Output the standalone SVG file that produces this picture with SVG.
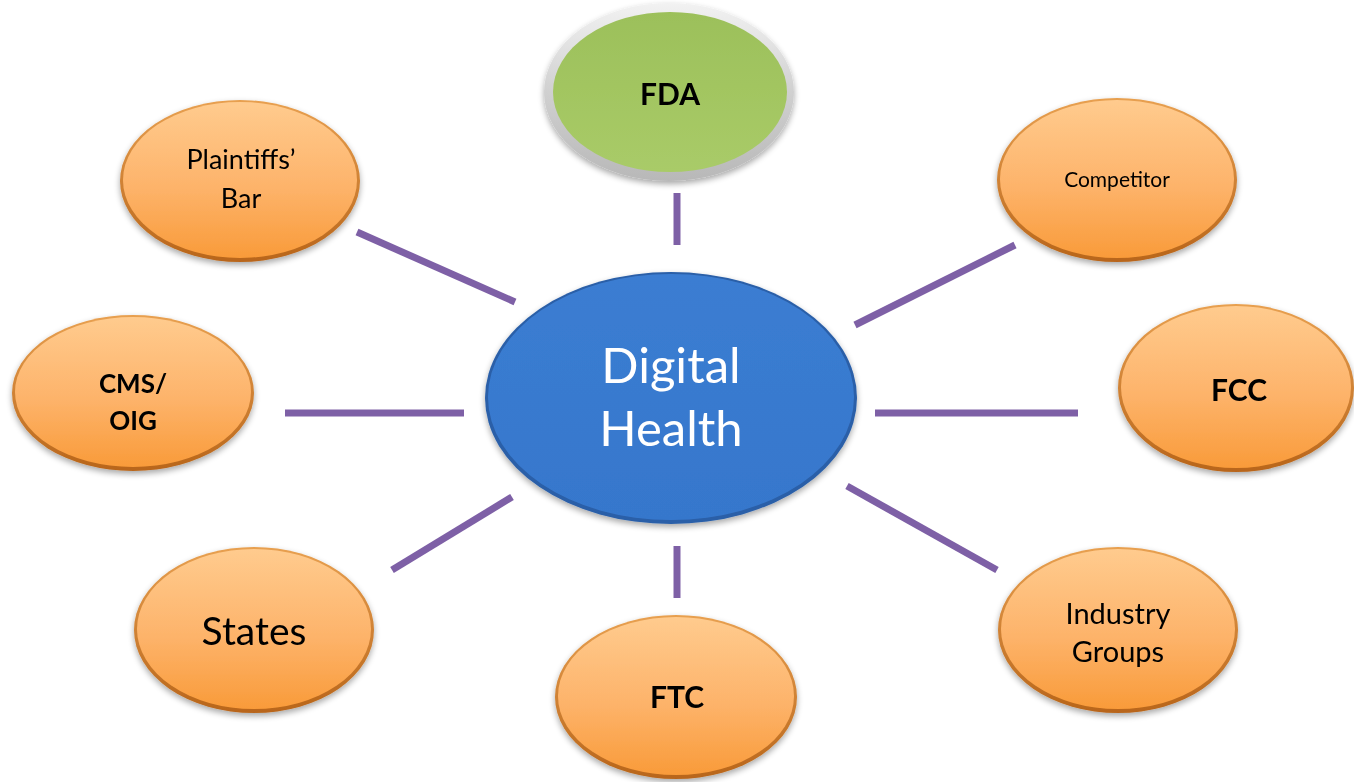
<svg xmlns="http://www.w3.org/2000/svg" width="1354" height="782" viewBox="0 0 1354 782">
  <defs>
    <linearGradient id="orangeFill" x1="0" y1="0" x2="0" y2="1">
      <stop offset="0" stop-color="#FFCB8E"/>
      <stop offset="0.55" stop-color="#FDB36A"/>
      <stop offset="1" stop-color="#F99B3A"/>
    </linearGradient>
    <linearGradient id="orangeRim" x1="0" y1="0" x2="0" y2="1">
      <stop offset="0" stop-color="#E8A050"/>
      <stop offset="1" stop-color="#B8651A"/>
    </linearGradient>
    <linearGradient id="greenFill" x1="0" y1="0" x2="0" y2="1">
      <stop offset="0" stop-color="#9CC05A"/>
      <stop offset="1" stop-color="#A9CB68"/>
    </linearGradient>
    <linearGradient id="greyRim" x1="0" y1="0" x2="0" y2="1">
      <stop offset="0" stop-color="#F2F2F2"/>
      <stop offset="0.5" stop-color="#D0D0D0"/>
      <stop offset="1" stop-color="#B8B8B8"/>
    </linearGradient>
    <linearGradient id="blueFill" x1="0" y1="0" x2="0" y2="1">
      <stop offset="0" stop-color="#3B7DD2"/>
      <stop offset="1" stop-color="#3677CC"/>
    </linearGradient>
    <filter id="shadow" x="-10%" y="-10%" width="120%" height="125%">
      <feGaussianBlur in="SourceAlpha" stdDeviation="3"/>
      <feOffset dy="3"/>
      <feComponentTransfer><feFuncA type="linear" slope="0.35"/></feComponentTransfer>
      <feMerge><feMergeNode/><feMergeNode in="SourceGraphic"/></feMerge>
    </filter>
  </defs>
  <style>
    .conn { stroke: #7E60A6; stroke-width: 7; fill: none; }
    .orim { fill: url(#orangeRim); }
    .ofill { fill: url(#orangeFill); }
    .t { font-family: Lato, "Open Sans", "Liberation Sans", sans-serif; fill: #000; text-anchor: middle; }
    .b { font-weight: bold; }
    .w { fill: #FFFFFF; }
  </style>
  <rect width="1354" height="782" fill="#FFFFFF"/>

  <g id="connectors">
    <line class="conn" x1="677" y1="193" x2="677" y2="245"/>
    <line class="conn" x1="357" y1="232" x2="515" y2="302"/>
    <line class="conn" x1="1015" y1="245" x2="855" y2="325"/>
    <line class="conn" x1="285" y1="413" x2="464" y2="413"/>
    <line class="conn" x1="875" y1="413" x2="1078" y2="413"/>
    <line class="conn" x1="392" y1="570" x2="512" y2="497"/>
    <line class="conn" x1="677" y1="546" x2="677" y2="598"/>
    <line class="conn" x1="847" y1="486" x2="997" y2="570"/>
  </g>

  <g id="digital-health" filter="url(#shadow)">
    <ellipse cx="671" cy="398" rx="186" ry="126" fill="#2A5FA8"/>
    <ellipse cx="671" cy="397" rx="183" ry="123" fill="url(#blueFill)"/>
    <text class="t w" x="671" y="383" font-size="49">Digital</text>
    <text class="t w" x="671" y="446" font-size="49">Health</text>
  </g>

  <g id="fda" filter="url(#shadow)">
    <ellipse cx="669" cy="92" rx="125" ry="89" fill="url(#greyRim)"/>
    <ellipse cx="670" cy="92" rx="117" ry="80" fill="url(#greenFill)"/>
    <text class="t b" x="670" y="105" font-size="30">FDA</text>
  </g>

  <g id="plaintiffs-bar" filter="url(#shadow)">
    <ellipse class="orim" cx="240" cy="181" rx="120" ry="81"/>
    <ellipse class="ofill" cx="240" cy="180" rx="117" ry="78"/>
    <text class="t" x="241" y="169" font-size="27">Plaintiffs’</text>
    <text class="t" x="241" y="208" font-size="27">Bar</text>
  </g>

  <g id="competitor" filter="url(#shadow)">
    <ellipse class="orim" cx="1117" cy="180" rx="120" ry="82"/>
    <ellipse class="ofill" cx="1117" cy="179" rx="117" ry="79"/>
    <text class="t" x="1117" y="187" font-size="21">Competitor</text>
  </g>

  <g id="cms-oig" filter="url(#shadow)">
    <ellipse class="orim" cx="133" cy="393" rx="121" ry="78"/>
    <ellipse class="ofill" cx="133" cy="392" rx="118" ry="75"/>
    <text class="t b" x="133" y="393" font-size="26">CMS/</text>
    <text class="t b" x="133" y="430" font-size="26">OIG</text>
  </g>

  <g id="fcc" filter="url(#shadow)">
    <ellipse class="orim" cx="1236" cy="388" rx="118" ry="84"/>
    <ellipse class="ofill" cx="1236" cy="387" rx="115" ry="81"/>
    <text class="t b" x="1239" y="401" font-size="30">FCC</text>
  </g>

  <g id="states" filter="url(#shadow)">
    <ellipse class="orim" cx="254" cy="630" rx="120" ry="83"/>
    <ellipse class="ofill" cx="254" cy="629" rx="117" ry="80"/>
    <text class="t" x="254" y="645" font-size="39">States</text>
  </g>

  <g id="ftc" filter="url(#shadow)">
    <ellipse class="orim" cx="676" cy="697" rx="121" ry="82"/>
    <ellipse class="ofill" cx="676" cy="696" rx="118" ry="79"/>
    <text class="t b" x="677" y="708" font-size="30">FTC</text>
  </g>

  <g id="industry-groups" filter="url(#shadow)">
    <ellipse class="orim" cx="1118" cy="630" rx="120" ry="83"/>
    <ellipse class="ofill" cx="1118" cy="629" rx="117" ry="80"/>
    <text class="t" x="1118" y="624" font-size="29">Industry</text>
    <text class="t" x="1118" y="662" font-size="29">Groups</text>
  </g>
</svg>
